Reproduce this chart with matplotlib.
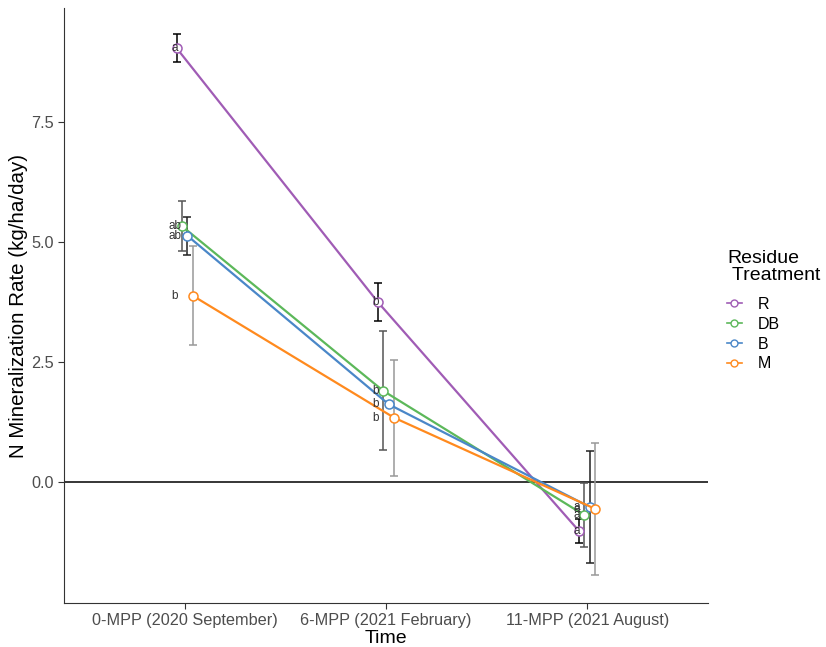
"""
N mineralization rate by residue treatment over time
"""

import numpy as np
import matplotlib.pyplot as plt
from matplotlib.lines import Line2D

plt.rcParams['font.family'] = ['Liberation Sans', 'DejaVu Sans']

times = ['0-MPP (2020 September)', '6-MPP (2021 February)', '11-MPP (2021 August)']
treatments = ['R', 'DB', 'B', 'M']
colors = ['#a05cb5', '#5cb85a', '#4a87c8', '#ff8a1e']
bar_colors = ['black', '#555555', '#222222', '#999999']

means = {
    'R':  [9.04, 3.75, -1.02],
    'DB': [5.33, 1.90, -0.69],
    'B':  [5.13, 1.62, -0.52],
    'M':  [3.88, 1.34, -0.56],
}
errs = {
    'R':  [0.29, 0.39, 0.25],
    'DB': [0.52, 1.24, 0.67],
    'B':  [0.40, np.nan, 1.16],
    'M':  [1.03, 1.21, 1.38],
}
letters = {
    'R':  ['a', 'b', 'a'],
    'DB': ['ab', 'b', 'a'],
    'B':  ['ab', 'b', 'a'],
    'M':  ['b', 'b', 'a'],
}

x = np.arange(1, len(times) + 1)
dodge = 0.027

fig = plt.figure(figsize=(8.26, 6.47), dpi=100)
ax = fig.add_axes([0.0775, 0.068, 0.7795, 0.9196])

ax.axhline(0, color='black', lw=1.1, zorder=1)

for i, t in enumerate(treatments):
    xi = x + (i - 1.5) * dodge
    ax.errorbar(xi, means[t], yerr=errs[t], fmt='none', ecolor=bar_colors[i],
                elinewidth=1.1, capsize=3, capthick=1.1, zorder=2)
    ax.plot(xi, means[t], color=colors[i], lw=1.6, marker='o', ms=6.5,
            mfc='white', mec=colors[i], mew=1.1, zorder=3)
    for j in range(len(times)):
        ax.text(x[j] - 0.05, means[t][j], letters[t][j], ha='center', va='center',
                fontsize=8.5, color='#333333', zorder=4)

ax.set_xlim(0.4, 3.6)
ax.set_ylim(-2.52, 9.875)
ax.set_xticks(x)
ax.set_xticklabels(times)
ax.set_yticks([0, 2.5, 5, 7.5])
ax.set_yticklabels(['0.0', '2.5', '5.0', '7.5'])
ax.tick_params(axis='both', colors='#333333', labelcolor='#4d4d4d', labelsize=11.7,
               length=4, width=0.8)
for s in ['top', 'right']:
    ax.spines[s].set_visible(False)
for s in ['left', 'bottom']:
    ax.spines[s].set_color('#333333')
    ax.spines[s].set_linewidth(0.8)

ax.set_xlabel('Time', fontsize=14, labelpad=1)
ax.set_ylabel('N Mineralization Rate (kg/ha/day)', fontsize=14.8, labelpad=2)

handles = [Line2D([0], [0], color=c, lw=1.2, marker='o', ms=5, mfc='white', mec=c)
           for c in colors]
leg = fig.legend(handles, treatments, title='Residue\n Treatment', loc='upper left',
                 bbox_to_anchor=(0.863, 0.636), frameon=False, fontsize=11.5,
                 title_fontsize=14, handlelength=0.9, labelspacing=0.3,
                 handletextpad=1.0)
leg.get_title().set_linespacing(1.0)
leg._legend_box.align = 'left'
leg._legend_box.sep = 9.5

fig.savefig('out.png', dpi=100)
